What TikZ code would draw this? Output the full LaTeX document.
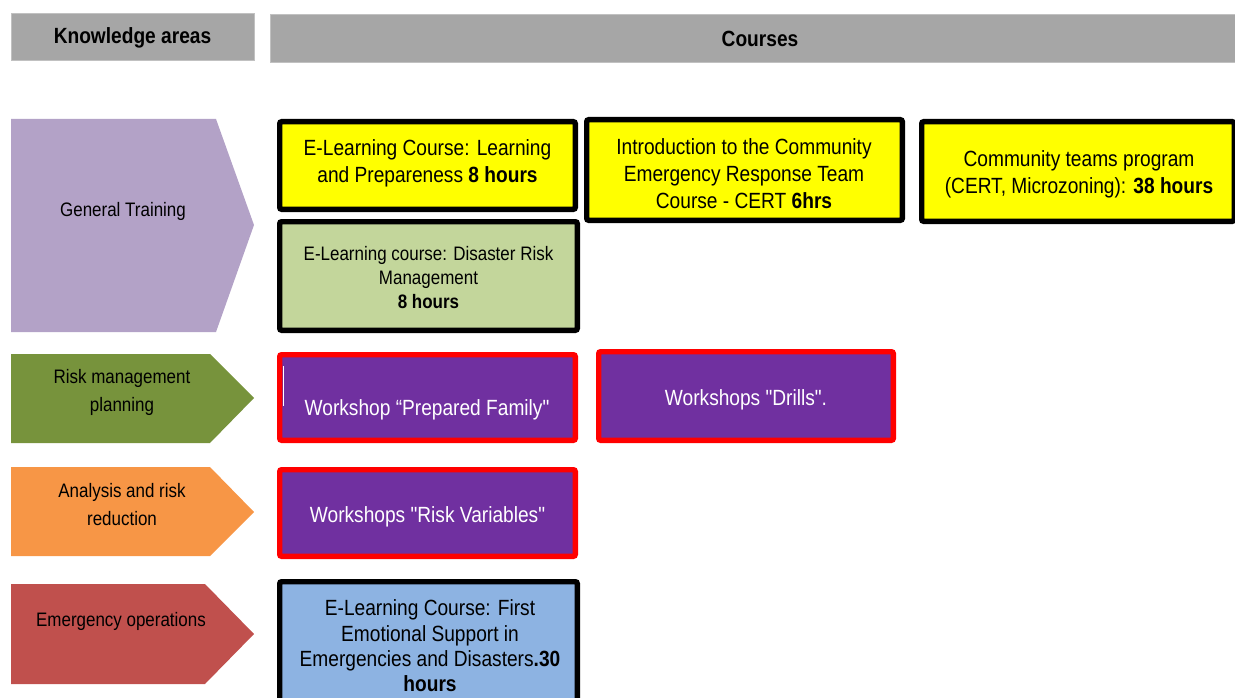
\documentclass[tikz,border=0pt]{standalone}
\usepackage{fontspec}
\setmainfont{Liberation Sans}[FakeStretch=0.87, Ligatures=TeXOff]
\definecolor{hdrgray}{HTML}{A6A6A6}
\definecolor{gtpurple}{HTML}{B3A2C7}
\definecolor{rmgreen}{HTML}{77933C}
\definecolor{arorange}{HTML}{F79646}
\definecolor{eored}{HTML}{C0504D}
\definecolor{byellow}{HTML}{FFFF00}
\definecolor{bgreen}{HTML}{C3D69B}
\definecolor{bpurple}{HTML}{7030A0}
\definecolor{bblue}{HTML}{8DB3E2}
\definecolor{bred}{HTML}{FF0000}
\begin{document}
\begin{tikzpicture}[x=1pt,y=-1pt,
  hdr/.style={fill=hdrgray, draw=hdrgray!70, line width=0.8pt},
  hdrtext/.style={font=\fontsize{22}{27}\selectfont\bfseries, text=black},
  areatext/.style={font=\fontsize{19.5}{28}\selectfont, align=center, text=black, inner sep=0pt},
  coursebox/.style={draw=black, line width=5.3pt, rounded corners=2pt, inner sep=0pt},
  workbox/.style={draw=bred, fill=bpurple, line width=5.3pt, rounded corners=2pt, inner sep=0pt},
  boxtext/.style={align=center, inner sep=0pt, font=\fontsize{22}{27}\selectfont}
]
\useasboundingbox (0,0) rectangle (1235,698);
% headers
\draw[hdr] (11,13) rectangle (254,60);
\node[hdrtext] (hka) at (132.5,38) {Knowledge areas};
\draw[hdr] (270,14) rectangle (1240,62);
\node[hdrtext] (hco) at (760,39) {Courses};
% knowledge area arrows
\fill[gtpurple] (11,119) -- (216,119) -- (254,225) -- (216,332) -- (11,332) -- cycle;
\node[areatext] (gt) at (123,211) {General Training};
\fill[rmgreen] (11,354) -- (210,354) -- (254,398) -- (210,443) -- (11,443) -- cycle;
\node[areatext] (rm) at (122,392) {Risk management\\planning};
\fill[arorange] (11,467) -- (210,467) -- (254,512) -- (210,556) -- (11,556) -- cycle;
\node[areatext] (ar) at (122,504.5) {Analysis and risk\\reduction};
\fill[eored] (11,584) -- (205,584) -- (254,634) -- (205,684) -- (11,684) -- cycle;
\node[areatext] (eo) at (121,621) {Emergency operations};
% course boxes
\node[coursebox, fill=byellow, minimum width=295.7pt, minimum height=87.7pt] (y1) at (427.5,165.5) {};
\node[boxtext] (y1t) at (427.5,163) {E-Learning Course: Learning\\and Prepareness \textbf{8 hours}};
\node[coursebox, fill=bgreen, minimum width=297.7pt, minimum height=108.7pt] (g1) at (428.5,276) {};
\node[boxtext, font=\fontsize{19.5}{24}\selectfont] (g1t) at (428.5,278) {E-Learning course: Disaster Risk\\Management\\\textbf{8 hours}};
\node[coursebox, fill=byellow, minimum width=315.7pt, minimum height=100.7pt] (in) at (744.5,170) {};
\node[boxtext] (int) at (744,174) {Introduction to the Community\\Emergency Response Team\\Course - CERT \textbf{6hrs}};
\node[coursebox, fill=byellow, minimum width=312.7pt, minimum height=99.7pt] (cm) at (1078,171.5) {};
\node[boxtext] (cmt) at (1079,174.5) {Community teams program\\(CERT, Microzoning): \textbf{38 hours}};
% workshops
\node[workbox, minimum width=295.7pt, minimum height=85.7pt] (pf) at (427.5,397.5) {};
\draw[white, line width=0.8pt] (283,366) -- (283,406);
\node[boxtext, text=white] (pft) at (427,410) {Workshop “Prepared Family"};
\node[workbox, minimum width=294.7pt, minimum height=88.7pt] (dr) at (746,396) {};
\node[boxtext, text=white] (drt) at (746,400) {Workshops "Drills".};
\node[workbox, minimum width=295.7pt, minimum height=86.7pt] (rv) at (427.5,513) {};
\node[boxtext, text=white] (rvt) at (427.5,517) {Workshops "Risk Variables"};
% emergency course
\node[coursebox, fill=bblue, minimum width=297.7pt, minimum height=120.7pt] (bl) at (428.5,642) {};
\node[boxtext, font=\fontsize{22}{25.3}\selectfont] (blt) at (430,646) {E-Learning Course: First\\Emotional Support in\\Emergencies and Disasters\textbf{.30}\\\textbf{hours}};
\end{tikzpicture}
\end{document}
